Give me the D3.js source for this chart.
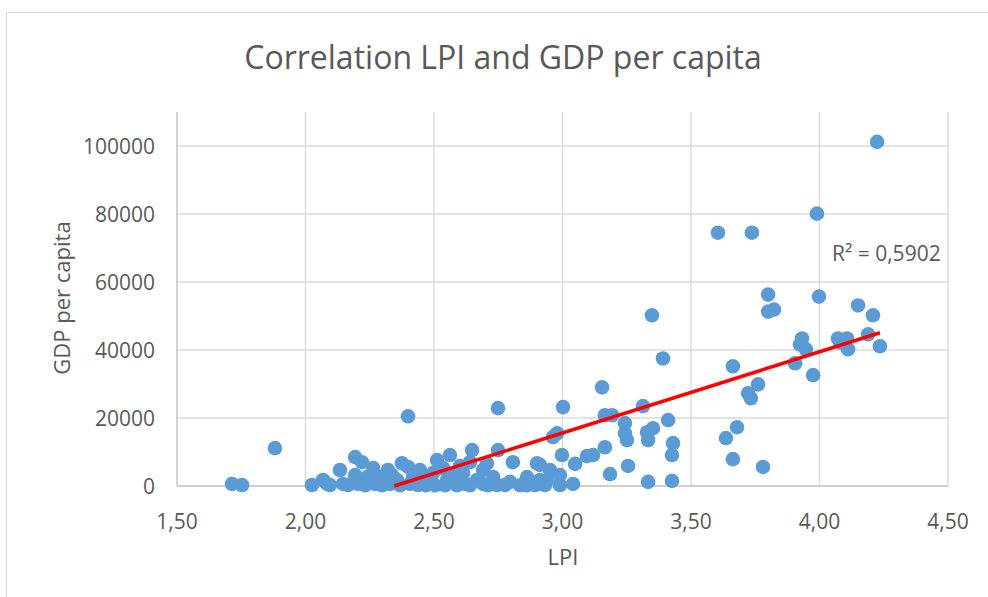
<!DOCTYPE html>
<html>
<head>
<meta charset="utf-8">
<script src="https://cdn.jsdelivr.net/npm/d3@7"></script>
<style>
  body { margin: 0; background: #fff; }
  svg { display: block; font-family: "Open Sans", sans-serif; }
</style>
</head>
<body>
<div id="chart"></div>
<script>
// data: LPI score and GDP per capita per country
var lpi = [1.714, 1.753, 1.881, 2.025, 2.068, 2.095, 2.084, 2.134, 2.146, 2.165,
  2.193, 2.220, 2.193, 2.204, 2.239, 2.263, 2.290, 2.321, 2.329, 2.356,
  2.375, 2.399, 2.399, 2.418, 2.368, 2.457, 2.438, 2.496, 2.512, 2.504,
  2.551, 2.562, 2.582, 2.574, 2.543, 2.613, 2.648, 2.667, 2.706, 2.730,
  2.745, 2.749, 2.749, 2.796, 2.807, 2.862, 2.901, 2.940, 2.951, 2.963,
  2.979, 2.998, 2.990, 2.990, 3.002, 3.041, 3.049, 3.095, 3.119, 3.154,
  3.165, 3.193, 3.165, 3.185, 3.243, 3.243, 3.251, 3.255, 3.313, 3.333,
  3.329, 3.352, 3.348, 3.333, 3.391, 3.411, 3.430, 3.426, 3.426, 3.605,
  3.737, 3.636, 3.663, 3.663, 3.679, 3.722, 3.733, 3.761, 3.780, 3.800,
  3.800, 3.823, 3.905, 3.932, 3.924, 3.947, 3.975, 3.990, 3.998, 4.072,
  4.080, 4.107, 4.111, 4.150, 4.189, 4.208, 4.224, 4.235,
  2.232, 2.270, 2.298, 2.407, 2.469, 2.589, 2.621, 2.640, 2.691, 2.710,
  2.835, 2.776, 2.893, 2.862, 2.912, 2.932, 2.912, 2.445, 2.337, 2.535,
  2.601, 2.691, 2.640];
var gdp = [600, 300, 11150, 300, 1760, 300, 600, 4700, 600, 300,
  8500, 7000, 3200, 600, 2600, 5300, 2600, 4700, 600, 1760,
  6700, 5600, 20500, 2600, 200, 1760, 300, 3800, 7600, 200,
  1760, 9100, 3800, 1760, 200, 3800, 10560, 1760, 6700, 2600,
  300, 10560, 22900, 1200, 7000, 2600, 6700, 1760, 4700, 14400,
  15500, 9100, 3200, 300, 23200, 600, 6500, 8800, 9100, 29000,
  20800, 20800, 11400, 3500, 18500, 15500, 13500, 5900, 23500, 13500,
  15800, 17000, 50200, 1200, 37500, 19400, 12600, 9100, 1500, 74500,
  74500, 14100, 7900, 35200, 17300, 27300, 25800, 29900, 5600, 56300,
  51300, 51900, 36100, 43400, 41600, 40200, 32600, 80100, 55700, 43400,
  42200, 43400, 40200, 53100, 44600, 50200, 101200, 41100,
  200, 600, 200, 600, 200, 200, 600, 200, 600, 200,
  200, 300, 300, 200, 1760, 300, 6200, 4700, 3200, 5300,
  5900, 4700, 7000];

var xTicks = [1.5, 2.0, 2.5, 3.0, 3.5, 4.0, 4.5];
var yTicks = [0, 20000, 40000, 60000, 80000, 100000];
var titleText = "Correlation LPI and GDP per capita";
var r2Text = "R² = 0,5902";

var W = 988, H = 597;
var margin = {top: 112, right: 40, bottom: 111, left: 177},
    width = 948 - margin.left,
    height = 486 - margin.top;

var svg = d3.select("#chart").append("svg")
    .attr("width", W)
    .attr("height", H);

// chart frame
svg.append("rect")
    .attr("x", 6.5).attr("y", 12.5)
    .attr("width", 1000).attr("height", 700)
    .attr("fill", "none").attr("stroke", "#d9d9d9");

var g = svg.append("g")
    .attr("transform", "translate(" + margin.left + "," + margin.top + ")");

var x = d3.scaleLinear().domain([1.5, 4.5]).range([0, width]);
var y = d3.scaleLinear().domain([0, 110000]).range([height, 0]);

var comma = d3.formatLocale({decimal: ",", thousands: "", grouping: [3], currency: ["", ""]});
var fmtX = comma.format(".2f");

// gridlines
g.append("g").selectAll("line").data(xTicks.slice(1)).enter().append("line")
    .attr("x1", d => x(d)).attr("x2", d => x(d))
    .attr("y1", 0).attr("y2", height)
    .attr("stroke", "#d9d9d9").attr("stroke-width", 1.3);
g.append("g").selectAll("line").data(yTicks.slice(1)).enter().append("line")
    .attr("x1", 0).attr("x2", width)
    .attr("y1", d => y(d)).attr("y2", d => y(d))
    .attr("stroke", "#d9d9d9").attr("stroke-width", 1.3);

// axes lines
g.append("line").attr("x1", 0).attr("x2", 0).attr("y1", 0).attr("y2", height)
    .attr("stroke", "#bfbfbf").attr("stroke-width", 1.3);
g.append("line").attr("x1", 0).attr("x2", width).attr("y1", height).attr("y2", height)
    .attr("stroke", "#bfbfbf").attr("stroke-width", 1.3);

// tick labels
g.append("g").selectAll("text").data(xTicks).enter().append("text")
    .attr("x", d => x(d)).attr("y", height + 43)
    .attr("text-anchor", "middle")
    .attr("font-size", 21).attr("fill", "#595959")
    .text(d => fmtX(d));
g.append("g").selectAll("text").data(yTicks).enter().append("text")
    .attr("x", -22).attr("y", d => y(d) + 7.5)
    .attr("text-anchor", "end")
    .attr("font-size", 21).attr("fill", "#595959")
    .text(d => d);

// points
g.append("g").selectAll("circle").data(lpi).enter().append("circle")
    .attr("cx", (d, i) => x(d))
    .attr("cy", (d, i) => y(gdp[i]))
    .attr("r", 7.3)
    .attr("fill", "#5b9bd5");

// linear trendline (least squares), clipped to plot area
var n = lpi.length,
    mx = d3.mean(lpi), my = d3.mean(gdp);
var sxy = d3.sum(lpi, (d, i) => (d - mx) * (gdp[i] - my)),
    sxx = d3.sum(lpi, d => (d - mx) * (d - mx));
var slope = sxy / sxx, icpt = my - slope * mx;
var x0 = Math.max(d3.min(lpi), -icpt / slope), x1 = d3.max(lpi);

g.append("line")
    .attr("x1", x(x0)).attr("y1", y(slope * x0 + icpt))
    .attr("x2", x(x1)).attr("y2", y(slope * x1 + icpt))
    .attr("stroke", "#ff0000").attr("stroke-width", 3.5);

g.append("text")
    .attr("x", 655).attr("y", 149)
    .attr("font-size", 21).attr("fill", "#595959")
    .text(r2Text);

// title and axis titles
svg.append("text")
    .attr("x", 503).attr("y", 69)
    .attr("text-anchor", "middle")
    .attr("font-size", 32).attr("fill", "#595959")
    .text(titleText);
svg.append("text")
    .attr("x", 563).attr("y", 565)
    .attr("text-anchor", "middle")
    .attr("font-size", 22).attr("fill", "#595959")
    .text("LPI");
svg.append("text")
    .attr("transform", "translate(70,298) rotate(-90)")
    .attr("text-anchor", "middle")
    .attr("font-size", 22).attr("fill", "#595959")
    .text("GDP per capita");
</script>
</body>
</html>
